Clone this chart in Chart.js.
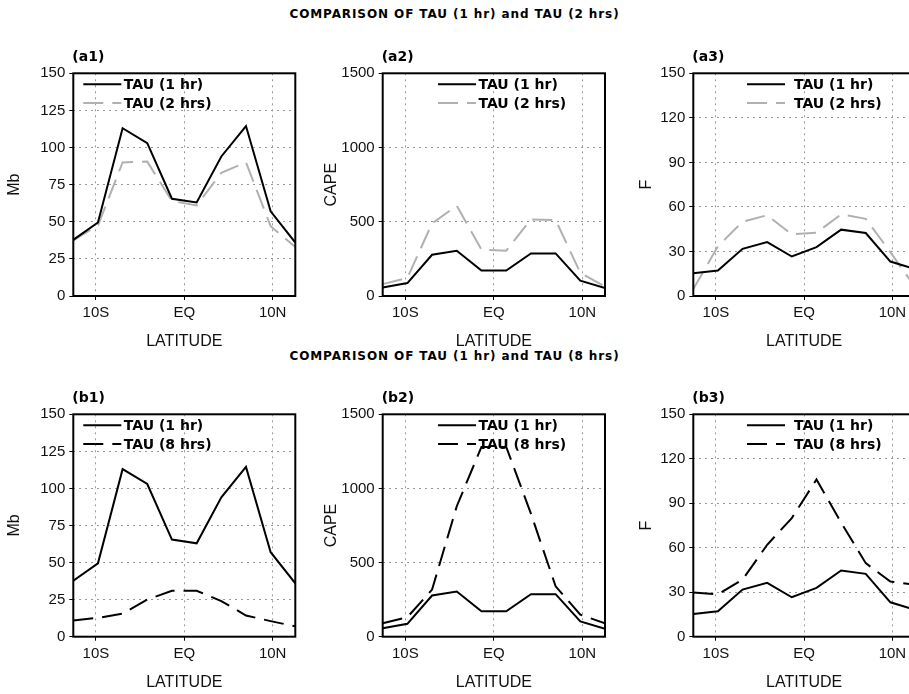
<!DOCTYPE html>
<html>
<head>
<meta charset="utf-8">
<script src="https://cdn.jsdelivr.net/npm/chart.js@4.4.1/dist/chart.umd.min.js"></script>
<style>
  html, body { margin: 0; padding: 0; width: 909px; height: 694px; overflow: hidden; background: #fff; }
  .title { position: absolute; left: 0; width: 909px; text-align: center; font: bold 12px "DejaVu Sans"; letter-spacing: 0.9px; color: #000; }
  canvas { position: absolute; }
</style>
</head>
<body>
<div class="title" style="top:7px">COMPARISON OF TAU (1 hr) and TAU (2 hrs)</div>
<div class="title" style="top:349px">COMPARISON OF TAU (1 hr) and TAU (8 hrs)</div>
<canvas id="a1" width="303" height="315" style="left:0;top:40px"></canvas>
<canvas id="a2" width="303" height="315" style="left:305px;top:40px"></canvas>
<canvas id="a3" width="300" height="315" style="left:615px;top:40px"></canvas>
<canvas id="b1" width="303" height="316" style="left:0;top:380px"></canvas>
<canvas id="b2" width="303" height="316" style="left:305px;top:380px"></canvas>
<canvas id="b3" width="300" height="316" style="left:615px;top:380px"></canvas>
<script>
// latitudes of the model grid points (deg, S negative)
const lats = [-12.56, -9.77, -6.98, -4.19, -1.40, 1.40, 4.19, 6.98, 9.77, 12.56];
const xTickVals = [-10, 0, 10];
const xTickLabels = ['10S', 'EQ', '10N'];

// Mb
const mb1hr  = [37.8, 49.5, 113, 103, 65.5, 63, 94, 114.5, 57, 36];
const mb2hrs = [37.5, 47.5, 90, 90.5, 64, 61, 83, 90, 47, 33];
const mb8hrs = [11, 12.7, 15.5, 25, 31, 31, 24, 14.3, 10.5, 7];
// CAPE
const cape1hr  = [57, 87, 278, 305, 172, 172, 287, 287, 103, 53];
const cape2hrs = [80, 122, 489, 608, 312, 305, 516, 512, 156, 64];
const cape8hrs = [91, 132, 318, 880, 1280, 1280, 830, 340, 148, 91];
// F
const f1hr  = [15.3, 17.1, 31.8, 36.3, 26.6, 32.9, 44.7, 42.4, 23.2, 18.2];
const f2hrs = [4.7, 33.5, 50, 54.4, 41.5, 42.6, 55, 52, 29.5, 6];
const f8hrs = [29.8, 28.5, 38.5, 62, 80, 106, 77, 49.6, 37.2, 35];

const FONT = '"Liberation Sans", Arial, sans-serif';
const GRAY = '#b0b0b0';
const DASH = [20, 9];

// legend drawn inside the plot box
const insideLegend = {
  id: 'insideLegend',
  afterDatasetsDraw(chart, args, opts) {
    const { ctx, chartArea } = chart;
    ctx.save();
    chart.data.datasets.forEach((ds, i) => {
      const y = chartArea.top + opts.top + i * opts.rowGap;
      const x0 = chartArea.left + opts.left;
      ctx.beginPath();
      ctx.setLineDash(ds.borderDash || []);
      ctx.strokeStyle = ds.borderColor;
      ctx.lineWidth = ds.borderWidth;
      ctx.moveTo(x0, y);
      ctx.lineTo(x0 + opts.lineW, y);
      ctx.stroke();
      ctx.setLineDash([]);
      ctx.fillStyle = '#000';
      ctx.font = 'bold 14px "DejaVu Sans"';
      ctx.textBaseline = 'middle';
      ctx.fillText(ds.label, x0 + opts.lineW + opts.gap, y + 1);
    });
    ctx.restore();
  }
};

// box round the plot and the (a1) style tag
const frame = {
  id: 'frame',
  afterDraw(chart, args, opts) {
    const { ctx, chartArea } = chart;
    ctx.save();
    ctx.strokeStyle = '#000';
    ctx.lineWidth = 2;
    ctx.strokeRect(chartArea.left, chartArea.top, chartArea.right - chartArea.left, chartArea.bottom - chartArea.top);
    ctx.fillStyle = '#000';
    ctx.font = 'bold 14px "DejaVu Sans"';
    ctx.textBaseline = 'middle';
    ctx.fillText(opts.tag, chartArea.left - 1, chartArea.top - 15.5);
    ctx.restore();
  }
};

function panel(id, cfg) {
  const ctx = document.getElementById(id).getContext('2d');
  return new Chart(ctx, {
    type: 'line',
    data: {
      labels: lats,
      datasets: [{
        label: 'TAU (1 hr)',
        data: lats.map((x, i) => ({ x: x, y: cfg.s1[i] })),
        borderColor: '#000',
        borderWidth: 2,
        pointRadius: 0,
        tension: 0
      }, {
        label: cfg.label2,
        data: lats.map((x, i) => ({ x: x, y: cfg.s2[i] })),
        borderColor: cfg.color2,
        borderWidth: 2,
        borderDash: DASH,
        pointRadius: 0,
        tension: 0
      }]
    },
    options: {
      responsive: false,
      animation: false,
      layout: { padding: { top: cfg.padTop, right: cfg.padRight, left: 0, bottom: 0 } },
      plugins: {
        legend: { display: false },
        tooltip: { enabled: false },
        insideLegend: { left: cfg.legLeft, gap: cfg.legGap, lineW: 38, top: 11, rowGap: 18.7 },
        frame: { tag: cfg.tag }
      },
      scales: {
        x: {
          type: 'linear',
          min: -12.56,
          max: 12.56,
          afterBuildTicks: s => { s.ticks = xTickVals.map(v => ({ value: v })); },
          afterFit: s => { s.height = cfg.xH; },
          ticks: {
            font: { family: FONT, size: 15 },
            color: '#111',
            padding: 4,
            maxRotation: 0,
            callback: v => xTickLabels[xTickVals.indexOf(v)]
          },
          grid: { color: '#999', lineWidth: 1, tickLength: 4, tickColor: '#000', tickBorderDash: [] },
          border: { display: false, dash: [2, 4] },
          title: { display: true, text: 'LATITUDE', color: '#111', font: { family: FONT, size: 16 }, padding: { top: 0, bottom: 4 } }
        },
        y: {
          min: 0,
          max: cfg.yMax,
          afterFit: s => { s.width = cfg.yW; },
          ticks: {
            stepSize: cfg.yStep,
            font: { family: FONT, size: 15 },
            color: '#111',
            padding: 4,
            callback: v => String(v)
          },
          grid: { color: '#999', lineWidth: 1, tickLength: 4, tickColor: '#000', tickBorderDash: [] },
          border: { display: false, dash: [2, 4] },
          title: { display: true, text: cfg.yTitle, color: '#111', font: { family: FONT, size: 16 }, padding: { top: cfg.yTitlePad, bottom: 0 } }
        }
      }
    },
    plugins: [insideLegend, frame]
  });
}

window.addEventListener('DOMContentLoaded', () => {
  panel('a1', { tag: '(a1)', s1: mb1hr, s2: mb2hrs, label2: 'TAU (2 hrs)', color2: GRAY, yMax: 150, yStep: 25, yTitle: 'Mb',
    yW: 73.3, yTitlePad: 5.4, padTop: 33.3, padRight: 7.7, xH: 59, legLeft: 10, legGap: 2.5 });
  panel('a2', { tag: '(a2)', s1: cape1hr, s2: cape2hrs, label2: 'TAU (2 hrs)', color2: GRAY, yMax: 1500, yStep: 500, yTitle: 'CAPE',
    yW: 77.7, yTitlePad: 17.1, padTop: 33.3, padRight: 3, xH: 59, legLeft: 55.3, legGap: 2.5 });
  panel('a3', { tag: '(a3)', s1: f1hr, s2: f2hrs, label2: 'TAU (2 hrs)', color2: GRAY, yMax: 150, yStep: 30, yTitle: 'F',
    yW: 78.3, yTitlePad: 22.1, padTop: 33.3, padRight: 0, xH: 59, legLeft: 53.7, legGap: 9 });
  panel('b1', { tag: '(b1)', s1: mb1hr, s2: mb8hrs, label2: 'TAU (8 hrs)', color2: '#000', yMax: 150, yStep: 25, yTitle: 'Mb',
    yW: 73.3, yTitlePad: 5.4, padTop: 34.3, padRight: 7.7, xH: 59.3, legLeft: 10, legGap: 2.5 });
  panel('b2', { tag: '(b2)', s1: cape1hr, s2: cape8hrs, label2: 'TAU (8 hrs)', color2: '#000', yMax: 1500, yStep: 500, yTitle: 'CAPE',
    yW: 77.7, yTitlePad: 17.1, padTop: 34.3, padRight: 3, xH: 59.3, legLeft: 55.3, legGap: 2.5 });
  panel('b3', { tag: '(b3)', s1: f1hr, s2: f8hrs, label2: 'TAU (8 hrs)', color2: '#000', yMax: 150, yStep: 30, yTitle: 'F',
    yW: 78.3, yTitlePad: 22.1, padTop: 34.3, padRight: 0, xH: 59.3, legLeft: 53.7, legGap: 9 });
});
</script>
</body>
</html>
